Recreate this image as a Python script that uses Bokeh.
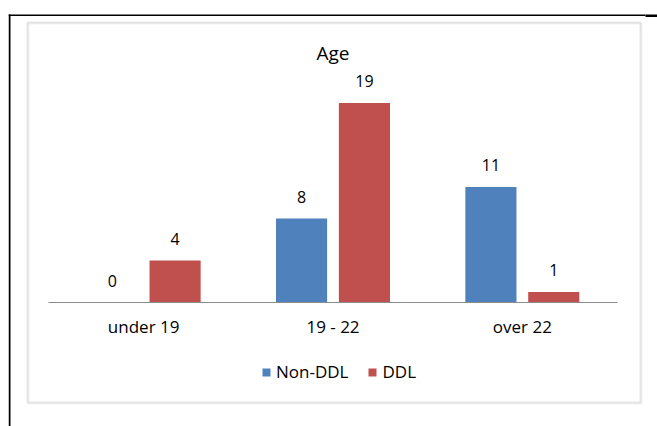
from bokeh.plotting import figure
from bokeh.models import (ColumnDataSource, Range1d, FactorRange, Legend, LegendItem,
                          Label, BoxAnnotation, CategoricalAxis)
from bokeh.transform import dodge
from bokeh.core.properties import value
from bokeh.embed import file_html
from bokeh.resources import INLINE

categories = ["under 19", "19 - 22", "over 22"]
non_ddl = [0, 8, 11]
ddl = [4, 19, 1]
series_names = ["Non-DDL", "DDL"]
title_text = "Age"

BLUE = "#4F81BD"
RED = "#C0504D"
FONT = "Open Sans"

source = ColumnDataSource(dict(
    cat=categories,
    non_ddl=non_ddl,
    ddl=ddl,
    non_lbl=[str(v) for v in non_ddl],
    ddl_lbl=[str(v) for v in ddl],
))

W, H = 657, 426
LEFT = 8                     # frame starts here, runs to the right edge
BASE = 302                   # pixel row of the value axis zero
PPU = 10.5                   # pixels per unit

xr = FactorRange(*categories, range_padding=0.1426, range_padding_units="percent")
yr = Range1d(-(H - BASE) / PPU, BASE / PPU)

p = figure(width=W, height=H, output_backend="svg", toolbar_location=None,
           x_range=xr, y_range=yr, x_axis_location=None, y_axis_location=None,
           min_border_left=LEFT, min_border_right=0, min_border_top=0, min_border_bottom=0)
p.xgrid.visible = False
p.ygrid.visible = False
p.outline_line_color = None
p.background_fill_color = "white"
p.border_fill_color = "white"

def canvas_box(l, r, t, b, **kw):
    return BoxAnnotation(left=l, right=r, top=t, bottom=b,
                         left_units="canvas", right_units="canvas",
                         top_units="canvas", bottom_units="canvas", **kw)

# decorative frames (chart-area border and page lines)
p.add_layout(canvas_box(28, 641, 23, 403, fill_alpha=0, line_color="#d4d4d4", line_width=2))
p.add_layout(canvas_box(27, 640, 22, 402, fill_alpha=0, line_color="#b4b4b4", line_width=2))
p.add_layout(canvas_box(8, 645, 14, 15.5, fill_color="black", fill_alpha=1, line_color=None))
p.add_layout(canvas_box(645, 657, 14, 16.5, fill_color="black", fill_alpha=1, line_color=None))
p.add_layout(canvas_box(8, 10, 14, 426, fill_color="black", fill_alpha=1, line_color=None))

off = 0.166
bw = 0.27
r1 = p.vbar(x=dodge("cat", -off, range=p.x_range), top="non_ddl", width=bw,
            source=source, fill_color=BLUE, line_color=None)
r2 = p.vbar(x=dodge("cat", off, range=p.x_range), top="ddl", width=bw,
            source=source, fill_color=RED, line_color=None)

for col, lbl, dx in (("non_ddl", "non_lbl", -off), ("ddl", "ddl_lbl", off)):
    p.text(x=dodge("cat", dx, range=p.x_range), y=col, text=lbl, source=source,
           text_align="center", text_baseline="middle", y_offset=-22,
           text_font=value(FONT), text_font_size="16px", text_color="black")

ax = CategoricalAxis(fixed_location=0, bounds=(0, len(categories)))
ax.axis_line_color = "#8c8c8c"
ax.axis_line_width = 1
ax.major_tick_line_color = None
ax.major_tick_out = 0
ax.major_tick_in = 0
ax.major_label_standoff = 12
ax.major_label_text_font = FONT
ax.major_label_text_font_size = "17px"
ax.major_label_text_color = "black"
p.add_layout(ax, "below")

p.add_layout(Label(x=1.5, y=(BASE - 52) / PPU, text=title_text, text_align="center",
                   text_baseline="alphabetic", text_font=FONT,
                   text_font_size="19px", text_color="black"))

legend = Legend(items=[LegendItem(label=series_names[0], renderers=[r1]),
                       LegendItem(label=series_names[1], renderers=[r2])],
                orientation="horizontal", location=(253, 43),
                glyph_width=10, glyph_height=10, label_standoff=5, spacing=19,
                padding=0, margin=0, border_line_color=None, background_fill_alpha=0,
                label_text_font=FONT, label_text_font_size="17px",
                label_text_color="black")
p.add_layout(legend)

open("out.html", "w").write(file_html(p, INLINE))
